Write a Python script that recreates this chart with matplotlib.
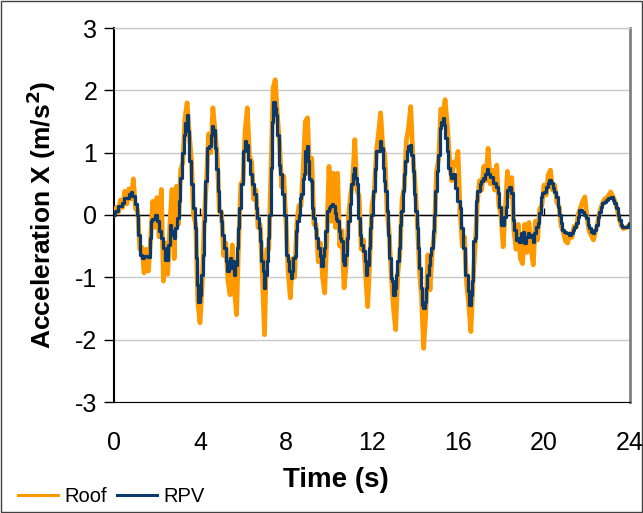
import numpy as np
import matplotlib; matplotlib.use("Agg")
import matplotlib.pyplot as plt
from matplotlib.patches import Rectangle
from matplotlib.lines import Line2D

plt.rcParams['font.family'] = ['Liberation Sans', 'DejaVu Sans']
plt.rcParams['axes.unicode_minus'] = False

# RPV response, time in s, acceleration in m/s^2
rpv_t = [0.00, 0.12, 0.28, 0.43, 0.47, 0.67, 0.75, 0.82, 0.90, 1.02, 1.09, 1.18, 1.24, 1.33,
         1.50, 1.64, 1.67, 1.75, 1.83, 1.95, 2.06, 2.14, 2.26, 2.34, 2.42, 2.48, 2.54, 2.64,
         2.70, 2.76, 2.82, 2.88, 2.96, 3.04, 3.12, 3.19, 3.29, 3.35, 3.41, 3.47, 3.53, 3.61,
         3.72, 3.78, 3.84, 3.89, 3.97, 4.03, 4.09, 4.16, 4.22, 4.28, 4.37, 4.47, 4.53, 4.59,
         4.65, 4.71, 4.81, 4.87, 4.93, 4.99, 5.05, 5.15, 5.24, 5.30, 5.36, 5.43, 5.49, 5.55,
         5.61, 5.67, 5.74, 5.80, 5.86, 5.95, 6.05, 6.11, 6.20, 6.26, 6.36, 6.45, 6.54, 6.64,
         6.70, 6.76, 6.82, 6.88, 6.95, 7.01, 7.07, 7.13, 7.19, 7.26, 7.32, 7.38, 7.44, 7.50,
         7.57, 7.63, 7.69, 7.78, 7.88, 7.94, 8.03, 8.12, 8.19, 8.25, 8.31, 8.37, 8.43, 8.50,
         8.56, 8.62, 8.68, 8.74, 8.81, 8.87, 8.93, 8.98, 9.05, 9.12, 9.18, 9.24, 9.30, 9.36,
         9.43, 9.52, 9.61, 9.67, 9.74, 9.80, 9.86, 9.95, 10.02, 10.11, 10.17, 10.23, 10.29,
         10.36, 10.42, 10.48, 10.54, 10.60, 10.67, 10.73, 10.79, 10.85, 10.95, 11.01, 11.07,
         11.13, 11.19, 11.26, 11.32, 11.41, 11.47, 11.53, 11.63, 11.69, 11.75, 11.81, 11.88,
         11.94, 12.00, 12.09, 12.16, 12.25, 12.34, 12.40, 12.47, 12.53, 12.59, 12.65, 12.71,
         12.78, 12.84, 12.90, 12.96, 13.02, 13.09, 13.15, 13.21, 13.27, 13.33, 13.40, 13.46,
         13.52, 13.58, 13.64, 13.74, 13.80, 13.86, 13.92, 13.98, 14.05, 14.11, 14.17, 14.23,
         14.29, 14.36, 14.42, 14.48, 14.54, 14.60, 14.67, 14.73, 14.79, 14.85, 14.91, 14.98,
         15.04, 15.10, 15.19, 15.26, 15.32, 15.38, 15.44, 15.50, 15.60, 15.66, 15.72, 15.78,
         15.84, 15.91, 15.97, 16.06, 16.12, 16.19, 16.25, 16.31, 16.37, 16.43, 16.50, 16.56,
         16.62, 16.68, 16.74, 16.81, 16.87, 16.93, 16.99, 17.05, 17.12, 17.18, 17.24, 17.30,
         17.36, 17.43, 17.52, 17.72, 17.80, 17.88, 17.95, 18.03, 18.11, 18.19, 18.26, 18.34,
         18.42, 18.50, 18.58, 18.65, 18.73, 18.81, 18.89, 18.96, 19.04, 19.12, 19.20, 19.27,
         19.35, 19.43, 19.51, 19.58, 19.66, 19.74, 19.82, 19.89, 19.97, 20.05, 20.13, 20.20,
         20.28, 20.36, 20.44, 20.51, 20.59, 20.67, 20.75, 20.82, 20.90, 20.98, 21.06, 21.13,
         21.21, 21.29, 21.37, 21.44, 21.52, 21.60, 21.68, 21.75, 21.83, 21.91, 21.99, 22.06,
         22.14, 22.22, 22.30, 22.37, 22.45, 22.53, 22.61, 22.68, 22.76, 22.84, 22.92, 22.99,
         23.07, 23.15, 23.23, 23.30, 23.38, 23.46, 23.54, 23.61, 23.69, 23.77, 23.85, 23.92,
         24.00]
rpv_a = [0.00, 0.06, 0.14, 0.19, 0.27, 0.27, 0.33, 0.37, 0.30, 0.17, 0.00, -0.32, -0.64, -0.69,
         -0.66, -0.68, -0.37, -0.10, -0.07, 0.00, -0.10, -0.26, -0.37, -0.53, -0.72, -0.72, -0.48, -0.16,
         -0.26, -0.32, -0.37, -0.21, -0.05, 0.22, 0.59, 0.99, 1.29, 1.48, 1.61, 1.34, 0.86, 0.49,
         0.11, -0.21, -0.69, -1.12, -1.39, -1.28, -0.96, -0.64, -0.10, 0.54, 1.07, 1.10, 1.29, 1.42,
         1.37, 1.07, 0.73, 0.38, 0.06, -0.10, -0.32, -0.53, -0.74, -0.90, -0.80, -0.69, -0.85, -0.74,
         -0.96, -0.80, -0.53, -0.21, 0.11, 0.49, 1.02, 1.18, 1.13, 0.89, 0.65, 0.49, 0.33, 0.11,
         -0.05, -0.21, -0.42, -0.74, -0.90, -1.17, -0.96, -0.74, -0.37, 0.00, 0.75, 1.50, 1.82, 1.72,
         1.61, 1.29, 0.81, 0.65, 0.33, 0.00, -0.64, -0.74, -0.90, -1.01, -0.90, -0.69, -0.66, -0.26,
         -0.10, 0.00, 0.27, 0.33, 0.57, 0.65, 1.02, 1.10, 0.86, 0.57, 0.54, 0.11, -0.05, -0.21,
         -0.37, -0.53, -0.66, -0.82, -0.66, -0.53, -0.26, 0.06, 0.11, 0.14, 0.17, 0.14, 0.03,
         -0.07, -0.10, -0.26, -0.37, -0.42, -0.74, -0.80, -0.64, -0.37, -0.10, 0.17, 0.49,
         0.65, 0.75, 0.59, 0.49, -0.05, -0.32, -0.48, -0.58, -0.74, -0.96, -0.80, -0.53,
         -0.21, 0.00, 0.38, 0.73, 1.02, 1.02, 1.18, 1.07, 0.75, 0.54, 0.38, 0.06,
         -0.32, -0.69, -1.01, -1.06, -1.28, -1.17, -0.96, -0.74, -0.53, -0.16, 0.06, 0.38,
         0.65, 0.86, 1.02, 1.10, 1.13, 0.97, 0.70, 0.33, 0.06, -0.21, -0.53, -0.85,
         -1.17, -1.44, -1.49, -1.39, -1.17, -0.96, -0.80, -0.64, -0.53, -0.26, 0.00, 0.38,
         0.70, 0.97, 1.40, 1.50, 1.56, 1.45, 1.24, 1.02, 0.75, 0.65, 0.59, 0.65,
         0.65, 0.43, 0.22, 0.22, 0.11, -0.21, -0.53, -0.53, -0.96, -0.96, -1.22, -1.44,
         -1.28, -1.06, -0.42, -0.37, 0.22, 0.38, 0.38, 0.49, 0.54, 0.59, 0.57, 0.65,
         0.73, 0.65, 0.61, 0.51, 0.45, 0.35, 0.13, -0.16, -0.16, -0.03, 0.13, 0.40,
         0.45, 0.35, -0.08, -0.24, -0.40, -0.37, -0.43, -0.29, -0.27, -0.45, -0.35, -0.29,
         -0.35, -0.32, -0.43, -0.29, -0.19, -0.13, 0.03, 0.29, 0.35, 0.37, 0.45, 0.51,
         0.56, 0.51, 0.43, 0.37, 0.29, 0.13, 0.00, -0.13, -0.24, -0.27, -0.29, -0.29,
         -0.32, -0.29, -0.24, -0.19, -0.13, -0.03, 0.08, 0.08, 0.05, 0.00, -0.05, -0.16,
         -0.21, -0.27, -0.29, -0.24, -0.16, -0.03, 0.05, 0.13, 0.19, 0.21, 0.24, 0.27,
         0.28, 0.29, 0.24, 0.19, 0.11, 0.00, -0.08, -0.16, -0.19, -0.19, -0.19, -0.16,
         -0.13]

# Roof response, sampled every 0.1 s
roof_t = [round(0.1 * i, 1) for i in range(241)]
roof_a = [0.00, 0.12, 0.04, 0.24, 0.12, 0.38, 0.18, 0.42, 0.26, 0.58,
          0.10, 0.08, -0.55, -0.52, -0.93, -0.55, -0.90, -0.40, 0.22, -0.20,
          0.28, -0.35, 0.41, -1.06, -0.45, -0.95, -0.15, 0.41, -0.70, 0.46,
          -0.15, 0.72, 0.85, 1.55, 1.80, 1.30, 0.90, 0.00, -0.15, -1.40,
          -1.73, -1.15, -0.05, 0.55, 1.30, 1.00, 1.72, 1.35, 0.95, 0.05,
          0.05, -0.65, -0.45, -1.05, -1.28, -0.48, -1.20, -1.60, -0.40, 0.50,
          0.55, 1.35, 1.72, 0.95, 0.85, 0.25, 0.40, -0.20, -0.15, -0.95,
          -1.92, -0.55, -0.55, 0.70, 2.04, 2.17, 1.60, 1.15, 0.45, 0.62,
          -0.15, -0.90, -1.33, -0.70, -1.00, -0.15, 0.15, 0.15, 0.75, 1.50,
          1.56, 0.65, 0.91, -0.15, -0.15, -0.75, -0.45, -1.00, -1.25, -0.35,
          0.78, -0.10, 0.67, -0.20, 0.67, -0.50, -0.25, -1.17, -0.80, -0.05,
          0.30, 0.55, 1.21, 0.40, 0.30, -0.55, -0.40, -0.95, -1.47, -0.70,
          0.15, 0.35, 1.00, 1.30, 1.64, 1.10, 0.95, 0.05, -0.30, -1.00,
          -1.50, -1.84, -0.95, -0.60, 0.25, 0.45, 1.20, 1.40, 1.74, 0.95,
          0.50, -0.05, -0.85, -1.30, -2.14, -1.60, -0.64, -1.20, -0.60, -0.30,
          0.70, 0.90, 1.70, 1.60, 1.85, 1.45, 0.95, 0.55, 0.85, 0.80,
          1.02, 0.05, -0.50, -0.35, -1.10, -1.45, -1.87, -1.05, -0.50, 0.20,
          0.55, 0.40, 0.78, 0.55, 1.07, 0.50, 0.72, 0.40, 0.80, 0.15,
          0.00, -0.51, 0.10, 0.70, 0.30, 0.60, -0.25, -0.55, -0.15, -0.70,
          -0.78, -0.15, -0.60, -0.12, -0.55, -0.80, -0.10, -0.40, 0.10, 0.15,
          0.48, 0.32, 0.65, 0.72, 0.40, 0.48, 0.20, 0.14, -0.18, -0.28,
          -0.42, -0.45, -0.30, -0.36, -0.18, -0.20, 0.02, 0.12, 0.22, 0.29,
          -0.04, -0.26, -0.33, -0.40, -0.26, -0.12, 0.06, 0.17, 0.25, 0.27,
          0.31, 0.37, 0.30, 0.22, 0.10, -0.06, -0.18, -0.22, -0.20, -0.19,
          -0.15]

x_ticks = [0, 4, 8, 12, 16, 20, 24]
y_ticks = [-3, -2, -1, 0, 1, 2, 3]
ROOF_C = "#FF9900"
RPV_C = "#0B3A6A"

fig = plt.figure(figsize=(6.43, 5.13), dpi=100)
ax = fig.add_axes([114 / 643, 1 - 402 / 513, 516 / 643, 374 / 513])

ax.plot(roof_t, roof_a, color=ROOF_C, lw=3.4, zorder=3)
ax.plot(rpv_t, rpv_a, color=RPV_C, lw=2.3, drawstyle="steps-mid", zorder=4)

ax.set_xlim(0, 24)
ax.set_ylim(-3, 3)
ax.set_yticks(y_ticks)
ax.set_xticks(x_ticks)
ax.yaxis.grid(True, color="#c8c8c8", lw=1)
ax.set_axisbelow(True)
ax.axhline(0, color="black", lw=1, zorder=2)

ax.spines["top"].set_color("#c8c8c8")
ax.spines["right"].set_color("#808080")
ax.spines["right"].set_linewidth(2)
ax.spines["top"].set_linewidth(1)
ax.spines["left"].set_linewidth(1.5)
ax.spines["bottom"].set_linewidth(0.8)

ax.tick_params(axis="y", direction="out", length=7, width=1, labelsize=18, pad=5)
ax.tick_params(axis="x", length=0, labelsize=18, pad=21)

# tick marks on the zero line
sec = ax.secondary_xaxis(0.5)
sec.set_xticks(x_ticks)
sec.set_xticklabels([])
sec.tick_params(direction="out", length=5, width=1)
sec.spines["bottom"].set_visible(False)

ax.set_xlabel("Time (s)", fontsize=20, fontweight="bold")
ax.xaxis.set_label_coords((336 - 114) / 516, -0.175)
ax.set_ylabel("Acceleration X (m/s$^\\mathbf{2}$)", fontsize=19, fontweight="bold", labelpad=12)

handles = [Line2D([], [], color=ROOF_C, lw=2.2), Line2D([], [], color=RPV_C, lw=2.2)]
fig.legend(handles, ["Roof", "RPV"], loc="center left", bbox_to_anchor=(0.012, 0.032),
           ncol=2, frameon=False, fontsize=14.5, handlelength=2.0, handletextpad=0.3,
           columnspacing=0.5, borderpad=0)

fig.patches.append(Rectangle((0.002, 0.002), 0.996, 0.996, transform=fig.transFigure,
                             fill=False, ec="#404040", lw=1))

fig.savefig("out.png", dpi=100)
